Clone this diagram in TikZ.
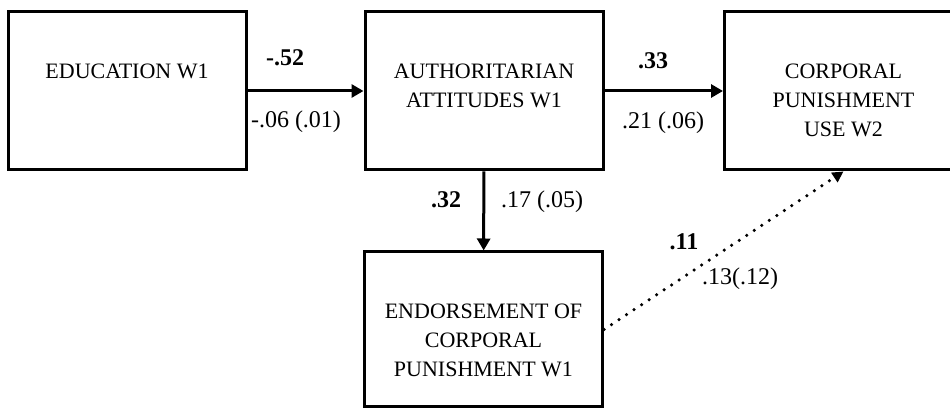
\documentclass[tikz,border=0pt]{standalone}
\usepackage{fontspec}
\setmainfont{Liberation Serif}
\usetikzlibrary{arrows.meta,positioning}
\begin{document}
\begin{tikzpicture}[x=1pt,y=1pt,
    box/.style={draw, line width=3pt, minimum width=238pt, minimum height=158pt, inner sep=0pt},
    boxtext/.style={align=center, inner sep=0pt, font=\fontsize{22}{29}\selectfont},
    coef/.style={anchor=base, inner sep=0pt, font=\fontsize{24}{28}\selectfont},
    link/.style={line width=3pt, -{Triangle[length=12pt,width=13pt]}}]
    \clip (0,0) rectangle (950,409);
    % boxes
    \node[box] (educ) at (127,318) {};
    \node[box] (auth) at (484,318) {};
    \node[box] (usew2) at (843.5,318) {};
    \node[box, minimum height=155pt] (endorse) at (483.5,79.5) {};
    \node[boxtext, below=53pt of educ.north] (educ-t) {EDUCATION W1};
    \node[boxtext, below=53pt of auth.north] (auth-t) {AUTHORITARIAN\\ATTITUDES W1};
    \node[boxtext, below=53pt of usew2.north] (usew2-t) {CORPORAL\\PUNISHMENT\\USE W2};
    \node[boxtext, below=53pt of endorse.north] (endorse-t) {ENDORSEMENT OF\\CORPORAL\\PUNISHMENT W1};
    % paths
    \draw[link] (educ) -- (auth);
    \draw[link] (auth) -- (usew2);
    \draw[link] (auth) -- (endorse);
    \draw[link, line width=3.5pt, line cap=round, dash pattern=on 0pt off 9pt, -{Triangle[length=11pt,width=11pt]}] (endorse.east) -- (usew2.south);
    % coefficients
    \node[coef] (b-ea) at (285,343) {\textbf{-.52}};
    \node[coef] (s-ea) at (296,281) {-.06 (.01)};
    \node[coef] (b-au) at (653,340) {\textbf{.33}};
    \node[coef] (s-au) at (663,280) {.21 (.06)};
    \node[coef] (b-ae) at (446,201) {\textbf{.32}};
    \node[coef] (s-ae) at (542,201) {.17 (.05)};
    \node[coef] (b-eu) at (684,159) {\textbf{.11}};
    \node[coef] (s-eu) at (740,124) {.13(.12)};
\end{tikzpicture}
\end{document}
